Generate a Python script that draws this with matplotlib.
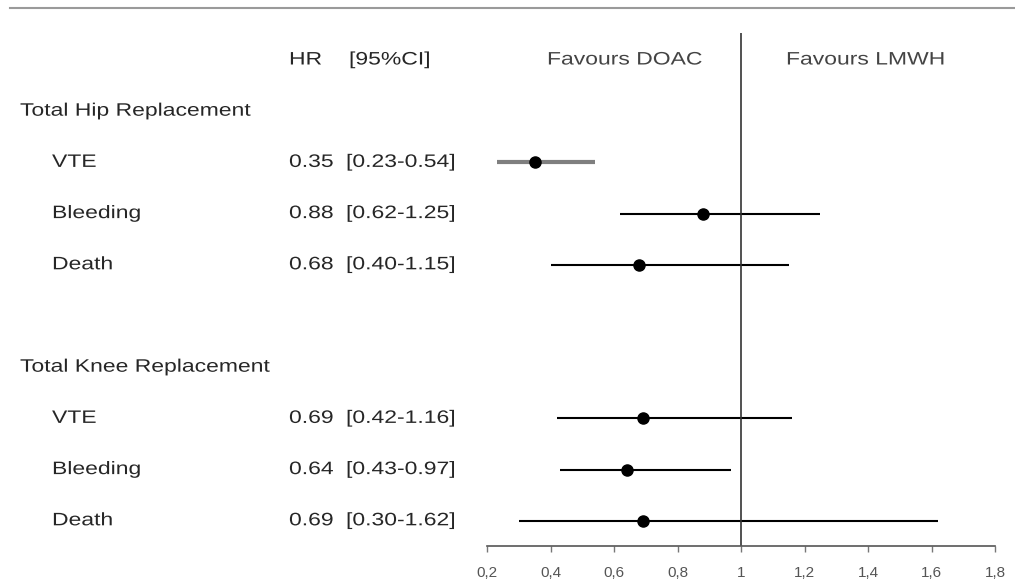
import matplotlib.pyplot as plt
from matplotlib.lines import Line2D
from matplotlib.patheffects import AbstractPathEffect
import matplotlib.transforms as mtransforms

plt.rcParams['font.family'] = ['Liberation Sans', 'DejaVu Sans']

# data
groups = ['Total Hip Replacement', 'Total Knee Replacement']
outcomes = ['VTE', 'Bleeding', 'Death']
hr = [[0.35, 0.88, 0.68], [0.69, 0.64, 0.69]]
ci_low = [[0.23, 0.62, 0.40], [0.42, 0.43, 0.30]]
ci_high = [[0.54, 1.25, 1.15], [1.16, 0.97, 1.62]]
ticks = [0.2, 0.4, 0.6, 0.8, 1.0, 1.2, 1.4, 1.6, 1.8]
tick_labels = ['0,2', '0,4', '0,6', '0,8', '1', '1,2', '1,4', '1,6', '1,8']


# the original text is rendered wide: stretch glyphs horizontally
class Wide(AbstractPathEffect):
    def __init__(self, sx=1.27):
        super().__init__()
        self.sx = sx

    def draw_path(self, renderer, gc, tpath, affine, rgbFace=None):
        renderer.draw_path(gc, tpath, mtransforms.Affine2D().scale(self.sx, 1) + affine, rgbFace)


W, H = 1015, 582
fig = plt.figure(figsize=(W / 100, H / 100), dpi=100)
ax = fig.add_axes([0, 0, 1, 1])

# x: 0.2 -> px 487, 1.8 -> px 995 ; y: row 0 -> px 60, 51.2 px per row
ppu = (995 - 487) / 1.6
ax.set_xlim(0.2 - 487 / ppu, 0.2 + (W - 487) / ppu)
ax.set_ylim((H - 60) / 51.2, -60 / 51.2)

txt = '#262626'
fs = 13
blend = mtransforms.blended_transform_factory(fig.transFigure, ax.transData)


def label(x, y, s, color=txt):
    ax.text(x / W, y, s, transform=blend, fontsize=fs, color=color, va='center',
            path_effects=[Wide()])


# header
label(289, 0, 'HR')
label(349, 0, '[95%CI]')
label(547, 0, 'Favours DOAC', '#444444')
label(786, 0, 'Favours LMWH', '#444444')

row = 1
for g in range(len(groups)):
    label(20, row, groups[g])
    row += 1
    for i in range(len(outcomes)):
        label(52, row, outcomes[i])
        label(289, row, f'{hr[g][i]:.2f}')
        label(346, row, f'[{ci_low[g][i]:.2f}-{ci_high[g][i]:.2f}]')
        if g == 0 and i == 0:
            ax.hlines(row, ci_low[g][i], ci_high[g][i], color='#7f7f7f', lw=3)
        else:
            ax.hlines(row, ci_low[g][i], ci_high[g][i], color='black', lw=1.5)
        ax.plot(hr[g][i], row, 'o', color='black', ms=8)
        row += 1
    row += 1

# reference line
ax.vlines(1, -0.53, 9.5, color='#333333', lw=1.2)

# axis
for s in ['top', 'left', 'right']:
    ax.spines[s].set_visible(False)
ax.spines['bottom'].set_position(('data', 9.5))
ax.spines['bottom'].set_bounds(0.2, 1.8)
ax.spines['bottom'].set_color('#555555')
ax.spines['bottom'].set_linewidth(1.2)
ax.set_xticks(ticks)
ax.set_xticklabels(tick_labels, fontsize=11, color='#555555')
ax.tick_params(axis='x', direction='out', length=4, width=1, color='#777777', pad=10)
ax.set_yticks([])

# top rule
fig.add_artist(Line2D([10 / W, 1], [1 - 8 / H, 1 - 8 / H], color='#9a9a9a', lw=1.5))

fig.savefig('out.png', dpi=100)
